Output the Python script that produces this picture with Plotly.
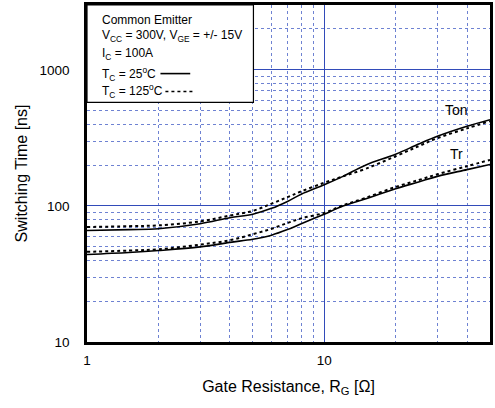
import plotly.graph_objects as go
import numpy as np

rg = [1, 1.5, 2, 3, 4, 5, 6, 7, 8, 10, 12, 15, 20, 25, 30, 40, 50]
ton_25 = [66, 67, 68, 74, 82, 87, 96, 108, 122, 143, 165, 200, 240, 285, 325, 385, 430]
ton_125 = [70, 71, 72, 77, 85, 92, 104, 116, 128, 148, 165, 188, 232, 275, 315, 372, 420]
tr_25 = [44, 45.5, 47, 50, 54, 57, 61, 67, 74, 87, 100, 113, 134, 150, 165, 185, 202]
tr_125 = [46, 47, 48, 52, 56, 62, 68, 75, 81, 89, 101, 115, 138, 155, 171, 196, 218]

x_range = [1, 50]
y_range = [10, 3000]

FONT = "Liberation Sans, Arial, sans-serif"
fig = go.Figure()
for ys, dash in [(ton_25, "solid"), (ton_125, "dot"), (tr_25, "solid"), (tr_125, "dot")]:
    fig.add_trace(go.Scatter(x=rg, y=ys, mode="lines", line=dict(color="black", width=2 if dash == "dot" else 1.6, dash=dash, shape="spline"), showlegend=False))

grid_major = "rgb(50,75,185)"
grid_minor = "rgb(110,130,210)"
axis_common = dict(type="log", showline=True, linecolor="black", linewidth=2.5, mirror=True,
                   ticks="", showgrid=True, gridcolor=grid_major, gridwidth=1, zeroline=False,
                   tickfont=dict(family=FONT, size=13.5, color="black"),
                   minor=dict(dtick="D1", showgrid=True, gridcolor=grid_minor, griddash="dot", gridwidth=1, ticks=""))

fig.update_xaxes(**axis_common, range=[np.log10(x_range[0]), np.log10(x_range[1])], dtick=1,
                 tickvals=[1, 10], ticktext=["1", "10"], ticklabelstandoff=4,
                 title=dict(text="Gate Resistance, R<sub>G</sub> [Ω]", font=dict(family=FONT, size=16, color="black"), standoff=14))
fig.update_yaxes(**axis_common, range=[np.log10(y_range[0]), np.log10(y_range[1])], dtick=1,
                 tickvals=[10, 100, 1000], ticktext=["10", "100", "1000"], ticklabelstandoff=12,
                 title=dict(text="Switching Time [ns]", font=dict(family=FONT, size=16, color="black"), standoff=8))

# legend box
fig.add_shape(type="rect", xref="paper", yref="paper", x0=0.0, x1=0.413, y0=(342 - 101) / 339, y1=1.0,
              line=dict(color="black", width=1.2), fillcolor="white", layer="above")
lines = [("Common Emitter", 18), ("V<sub>CC</sub> = 300V, V<sub>GE</sub> = +/- 15V", 34),
         ("I<sub>C</sub> = 100A", 52), ("T<sub>C</sub> = 25<sup>o</sup>C", 72), ("T<sub>C</sub> = 125<sup>o</sup>C", 90)]
for txt, ypix in lines:
    fig.add_annotation(xref="paper", yref="paper", x=(100 - 87) / 406, y=(342 - ypix) / 339, text=txt,
                       showarrow=False, xanchor="left", yanchor="middle", font=dict(family=FONT, size=12, color="black"))
fig.add_shape(type="line", xref="paper", yref="paper", x0=(161 - 87) / 406, x1=(191 - 87) / 406,
              y0=(342 - 72) / 339, y1=(342 - 72) / 339, line=dict(color="black", width=1.6), layer="above")
fig.add_shape(type="line", xref="paper", yref="paper", x0=(166 - 87) / 406, x1=(194 - 87) / 406,
              y0=(342 - 90) / 339, y1=(342 - 90) / 339, line=dict(color="black", width=1.6, dash="dot"), layer="above")

fig.add_annotation(x=np.log10(36.0), y=np.log10(510), text="Ton", showarrow=False, font=dict(family=FONT, size=14, color="black"))
fig.add_annotation(x=np.log10(36.0), y=np.log10(240), text="Tr", showarrow=False, font=dict(family=FONT, size=14, color="black"))

fig.update_layout(width=495, height=408, margin=dict(l=87, r=2, t=3, b=66),
                  plot_bgcolor="white", paper_bgcolor="white", font=dict(family=FONT))
fig.write_html("out.html")
